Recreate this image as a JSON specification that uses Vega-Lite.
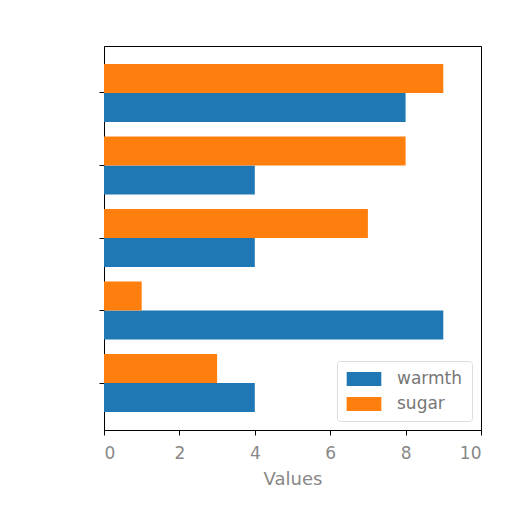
{
  "$schema": "https://vega.github.io/schema/vega-lite/v6.json",
  "autosize": {"type": "none"},
  "width": 377,
  "height": 384,
  "padding": {"left": 104, "top": 46, "right": 31, "bottom": 82},
  "background": "white",
  "data": {
    "values": [
      {"cat": "c1", "series": "warmth", "value": 8},
      {"cat": "c1", "series": "sugar", "value": 9},
      {"cat": "c2", "series": "warmth", "value": 4},
      {"cat": "c2", "series": "sugar", "value": 8},
      {"cat": "c3", "series": "warmth", "value": 4},
      {"cat": "c3", "series": "sugar", "value": 7},
      {"cat": "c4", "series": "warmth", "value": 9},
      {"cat": "c4", "series": "sugar", "value": 1},
      {"cat": "c5", "series": "warmth", "value": 4},
      {"cat": "c5", "series": "sugar", "value": 3}
    ]
  },
  "mark": {"type": "bar", "cornerRadius": 0},
  "encoding": {
    "y": {
      "field": "cat",
      "type": "nominal",
      "sort": ["c1", "c2", "c3", "c4", "c5"],
      "scale": {"paddingInner": 0.2, "paddingOuter": 0.248},
      "axis": {
        "title": null,
        "labels": false,
        "ticks": true,
        "tickColor": "#000",
        "tickSize": 5,
        "domain": false
      }
    },
    "yOffset": {
      "field": "series",
      "type": "nominal",
      "sort": ["sugar", "warmth"],
      "scale": {"paddingInner": 0, "paddingOuter": 0}
    },
    "x": {
      "field": "value",
      "type": "quantitative",
      "scale": {"domain": [0, 10], "nice": false},
      "axis": {
        "title": "Values",
        "values": [0, 2, 4, 6, 8, 10],
        "grid": false,
        "domainColor": "#000",
        "tickColor": "#000",
        "tickSize": 5,
        "labelFont": "DejaVu Sans",
        "labelFontSize": 17,
        "labelColor": "#888",
        "labelPadding": 10,
        "titleFont": "DejaVu Sans",
        "titleFontSize": 18,
        "titleFontWeight": "normal",
        "titleColor": "#888",
        "titlePadding": 9
      }
    },
    "color": {
      "field": "series",
      "type": "nominal",
      "sort": ["warmth", "sugar"],
      "scale": {"domain": ["warmth", "sugar"], "range": ["#1f77b4", "#ff7f0e"]},
      "legend": {
        "title": null,
        "orient": "bottom-right",
        "offset": 9,
        "symbolType": "M-2,-0.8H2V0.8H-2Z",
        "symbolSize": 300,
        "symbolStrokeWidth": 0,
        "symbolOffset": 9,
        "labelFont": "DejaVu Sans",
        "labelFontSize": 17,
        "labelColor": "#777",
        "labelOffset": 24,
        "rowPadding": 8,
        "padding": 9,
        "strokeColor": "#ddd",
        "fillColor": "white",
        "cornerRadius": 3
      }
    }
  },
  "config": {
    "view": {"stroke": "#000", "strokeWidth": 1},
    "axis": {"domainWidth": 1}
  }
}
